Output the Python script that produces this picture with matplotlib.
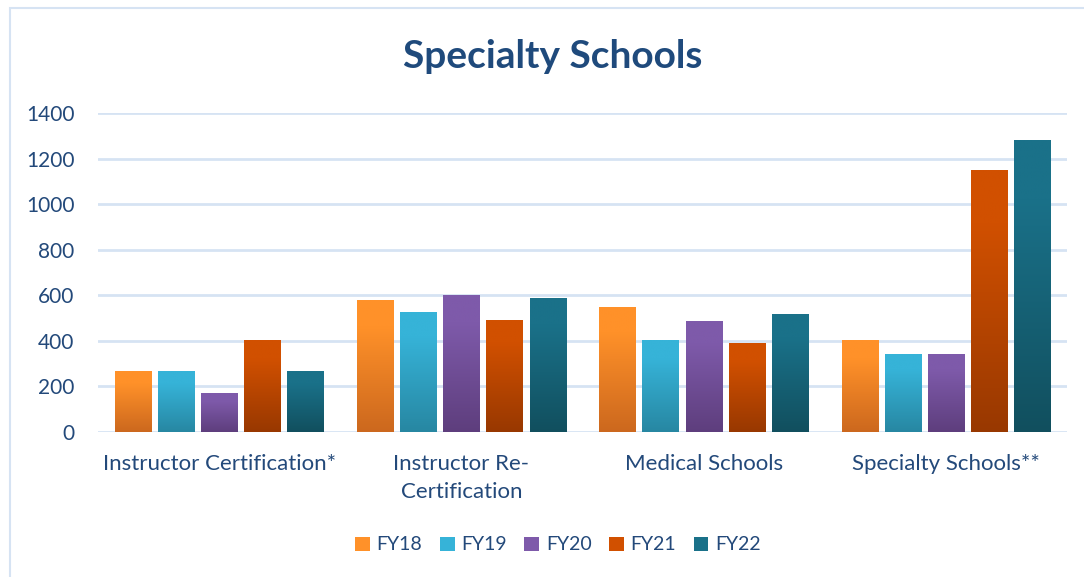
import numpy as np
import matplotlib
matplotlib.use("Agg")
import matplotlib.pyplot as plt
from matplotlib.colors import LinearSegmentedColormap, to_rgb
from matplotlib.patches import Rectangle

categories = ["Instructor Certification*", "Instructor Re-\nCertification", "Medical Schools", "Specialty Schools**"]
series = ["FY18", "FY19", "FY20", "FY21", "FY22"]
fy18 = [267, 580, 548, 403]
fy19 = [267, 527, 403, 341]
fy20 = [170, 602, 486, 341]
fy21 = [404, 492, 390, 1150]
fy22 = [267, 589, 517, 1282]
values = [fy18, fy19, fy20, fy21, fy22]
yticks = [0, 200, 400, 600, 800, 1000, 1200, 1400]

top_colors = ["#FF9129", "#36B3D8", "#7E5AAA", "#D15000", "#1A7189"]
bot_colors = ["#CC681E", "#2787A2", "#5E3E7D", "#983800", "#114F5E"]
text_color = "#23497A"
grid_color = "#D6E3F3"

plt.rcParams['font.family'] = ['Lato', 'DejaVu Sans']

fig = plt.figure(figsize=(10.84, 5.77), dpi=100)
ax = fig.add_axes([0.0904, 0.2518, 0.8939, 0.5515])

# outer border
fig.patches.append(Rectangle((10 / 1084, -0.05), 1.2, (577 - 8) / 577 + 0.05,
                             transform=fig.transFigure, fill=False,
                             edgecolor="#D6E3F3", linewidth=1.5))

x = np.arange(len(categories))
bw = 0.149
step = 0.178
offsets = (np.arange(len(series)) - 2) * step

grad = np.linspace(0, 1, 256).reshape(-1, 1)
for i, (vals, tc, bc) in enumerate(zip(values, top_colors, bot_colors)):
    cmap = LinearSegmentedColormap.from_list(
        f"g{i}", [(0.0, to_rgb(bc)), (0.8, to_rgb(tc)), (1.0, to_rgb(tc))])
    bars = ax.bar(x + offsets[i], vals, width=bw, color=tc, label=series[i],
                  linewidth=0, zorder=2)
    for b in bars:
        bx, by = b.get_x(), b.get_y()
        w, h = b.get_width(), b.get_height()
        ax.imshow(grad, cmap=cmap, origin="lower", aspect="auto",
                  extent=[bx, bx + w, by, by + h], zorder=3, interpolation="bilinear")

ax.set_xlim(-0.5, len(categories) - 0.5)
ax.set_ylim(0, 1400)
ax.set_yticks(yticks)
ax.set_yticklabels([str(t) for t in yticks])
ax.set_xticks(x)
ax.set_xticklabels(categories, va="top", linespacing=1.5)
ax.tick_params(axis="both", length=0, colors=text_color)
ax.tick_params(axis="y", pad=17, labelsize=15)
ax.tick_params(axis="x", pad=16, labelsize=16)
for s in ax.spines.values():
    s.set_visible(False)
ax.grid(axis="y", color=grid_color, linewidth=2, zorder=0)
ax.set_axisbelow(True)

fig.text(553 / 1084, 1 - 57 / 577, "Specialty Schools", ha="center", va="center",
         fontsize=28, fontweight="bold", color="#1F4A7C")

leg = fig.legend(loc="center", bbox_to_anchor=(558 / 1084, 1 - 545 / 577), ncol=5,
                 frameon=False, fontsize=14, handlelength=0.75, handleheight=0.75,
                 columnspacing=0.9, handletextpad=0.35)
for t in leg.get_texts():
    t.set_color(text_color)

fig.savefig("out.png", dpi=100)
